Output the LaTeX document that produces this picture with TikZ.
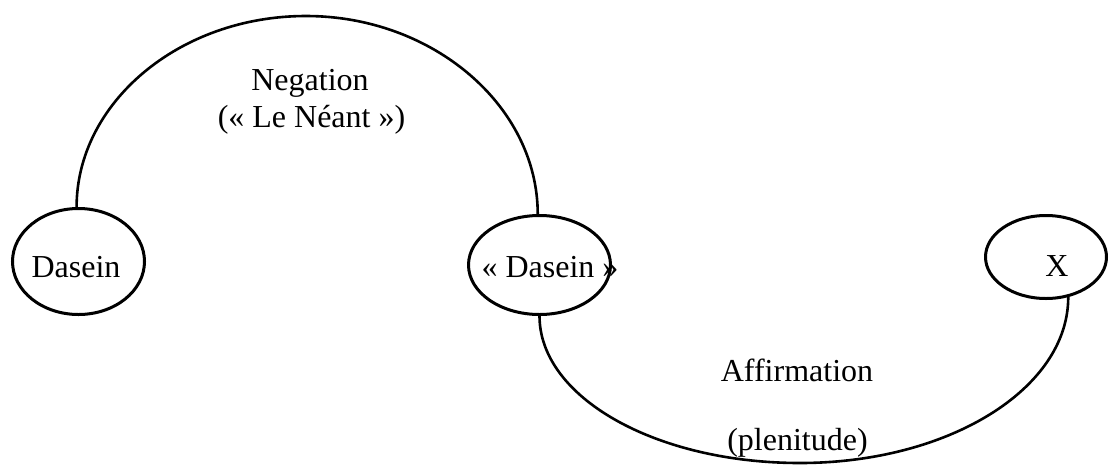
\documentclass[tikz,border=0pt]{standalone}
\usepackage{fontspec}
\setmainfont{Liberation Serif}
\usetikzlibrary{shapes.geometric}
\begin{document}
\begin{tikzpicture}[x=1pt,y=-1pt,
  oval/.style={ellipse, draw, line width=3pt, inner sep=0pt},
  conn/.style={line width=2.6pt},
  txt/.style={font=\fontsize{32}{37}\selectfont, inner sep=0pt, anchor=base},
  lbl/.style={font=\fontsize{32}{37}\selectfont, inner sep=0pt}]
\useasboundingbox (0,0) rectangle (1109,464);
\node[oval, minimum width=132pt, minimum height=106pt,
  label={[lbl, xshift=-2.5pt, yshift=-5.5pt]center:Dasein}] (dl) at (78.5,261.5) {};
\node[oval, minimum width=142pt, minimum height=99pt,
  label={[lbl, xshift=10.5pt, yshift=-2pt]center:« Dasein »}] (dm) at (539.5,265) {};
\node[oval, minimum width=121pt, minimum height=83pt,
  label={[lbl, xshift=11pt, yshift=-9.5pt]center:X}] (x) at (1046,257) {};
\coordinate (nt) at (306,16);
\coordinate (nb) at (800,463);
\draw[conn] (dl.92) .. controls +(0,-104) and +(-127,0) .. (nt)
  .. controls +(127,0) and +(0,-108) .. (dm.92);
\draw[conn] (dm.south) .. controls +(0,81) and +(-145,0) .. (nb)
  .. controls +(148,0) and +(0,92) .. (x.-61);
\node[txt] (neg) at (310,90) {Negation};
\node[txt] (nea) at (311.5,127) {(« Le Néant »)};
\node[txt] (aff) at (797,381) {Affirmation};
\node[txt] (ple) at (797.5,450) {(plenitude)};
\end{tikzpicture}
\end{document}
